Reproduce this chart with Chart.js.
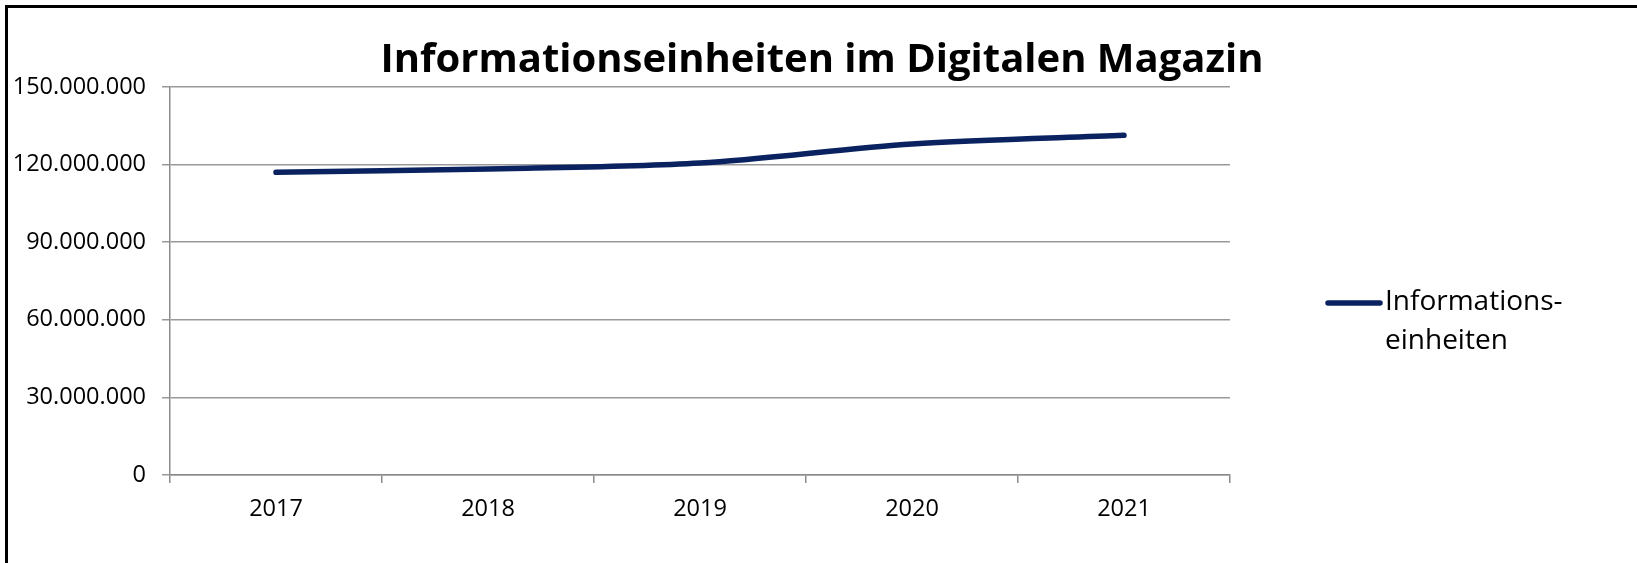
<!DOCTYPE html>
<html>
<head>
<meta charset="utf-8">
<script src="https://cdn.jsdelivr.net/npm/chart.js@4/dist/chart.umd.min.js"></script>
<style>
html,body{margin:0;padding:0;background:#fff;}
#wrap{width:1637px;height:563px;position:relative;}
</style>
</head>
<body>
<div id="wrap"><canvas id="c" width="1637" height="563"></canvas></div>
<script>
const titleText = 'Informationseinheiten im Digitalen Magazin';
const categories = ['2017', '2018', '2019', '2020', '2021'];
const values = [117000000, 118300000, 120600000, 128000000, 131300000];
const seriesName = ['Informations-', 'einheiten'];
const yTicks = [0, 30000000, 60000000, 90000000, 120000000, 150000000];

const FONT = '"Open Sans", Lato, sans-serif';
const LINE_COLOR = '#0a2260';

const deco = {
  id: 'deco',
  afterDraw(chart) {
    const ctx = chart.ctx;
    ctx.save();
    // outer border (left and top only visible)
    ctx.strokeStyle = '#000';
    ctx.lineWidth = 3;
    ctx.beginPath();
    ctx.moveTo(6.5, 570);
    ctx.lineTo(6.5, 6.5);
    ctx.lineTo(1645, 6.5);
    ctx.stroke();
    // title
    ctx.fillStyle = '#000';
    ctx.font = 'bold 40px ' + FONT;
    ctx.textAlign = 'center';
    ctx.textBaseline = 'alphabetic';
    ctx.fillText(titleText, 822, 72);
    // legend
    const ds = chart.data.datasets[0];
    ctx.strokeStyle = ds.borderColor;
    ctx.lineWidth = 5.5;
    ctx.lineCap = 'round';
    ctx.beginPath();
    ctx.moveTo(1328, 303);
    ctx.lineTo(1380, 303);
    ctx.stroke();
    ctx.font = '28px ' + FONT;
    ctx.textAlign = 'left';
    ctx.textBaseline = 'middle';
    ctx.fillStyle = '#000';
    seriesName.forEach((t, i) => ctx.fillText(t, 1385, 302 + i * 39));
    ctx.restore();
  }
};

new Chart(document.getElementById('c'), {
  type: 'line',
  data: {
    labels: categories,
    datasets: [{
      label: seriesName.join(''),
      data: values,
      borderColor: LINE_COLOR,
      backgroundColor: LINE_COLOR,
      borderWidth: 5.5,
      borderCapStyle: 'round',
      pointRadius: 0,
      tension: 0.3,
      fill: false
    }]
  },
  options: {
    responsive: false,
    animation: false,
    layout: { padding: { top: 87, right: 407, left: 0, bottom: 0 } },
    plugins: { legend: { display: false }, title: { display: false }, tooltip: { enabled: false } },
    scales: {
      x: {
        type: 'category',
        offset: true,
        afterFit(s) { s.height = 88; },
        grid: { offset: true, drawOnChartArea: false, drawTicks: true, tickLength: 8, color: '#8c8c8c', lineWidth: 1.5 },
        border: { display: true, color: '#8c8c8c', width: 1.5 },
        ticks: { color: '#000', font: { family: FONT, size: 23.5 }, padding: 12, maxRotation: 0 }
      },
      y: {
        min: 0,
        max: 150000000,
        afterFit(s) { s.width = 170; },
        afterBuildTicks(s) { s.ticks = yTicks.map(v => ({ value: v })); },
        grid: { color: '#999', lineWidth: 1.5, tickLength: 8 },
        border: { display: true, color: '#8c8c8c', width: 1.5 },
        ticks: {
          color: '#000',
          font: { family: FONT, size: 23.5 },
          padding: 16,
          callback: v => Number(v).toLocaleString('de-DE')
        }
      }
    }
  },
  plugins: [deco]
});
</script>
</body>
</html>
